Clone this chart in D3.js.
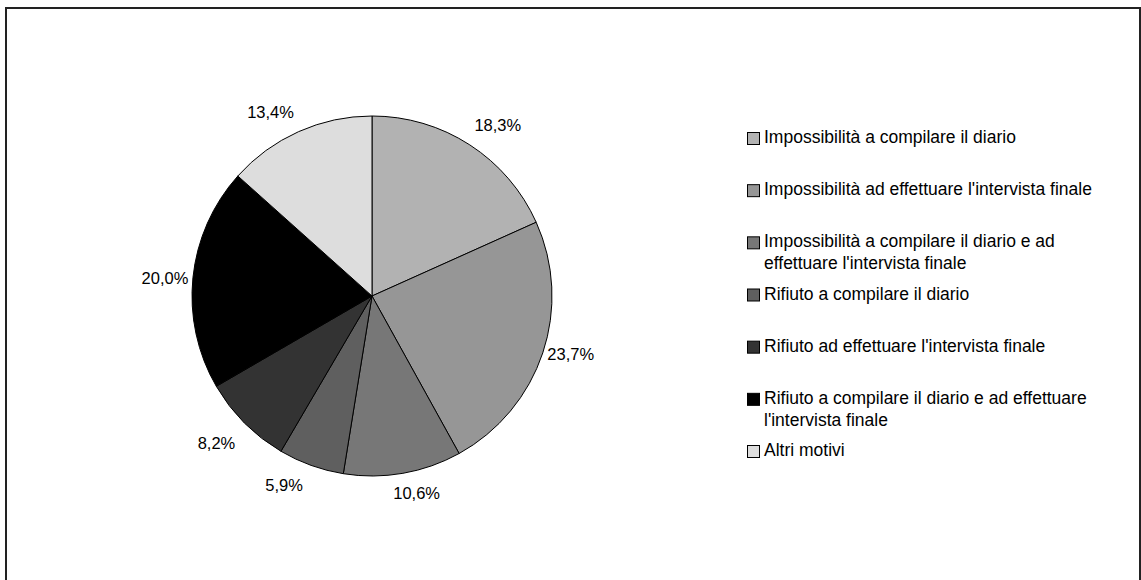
<!DOCTYPE html>
<html><head><meta charset="utf-8">
<script src="https://cdn.jsdelivr.net/npm/d3@7"></script>
<style>html,body{margin:0;padding:0;background:#fff;}svg{display:block;font-family:"Liberation Sans",Arial,sans-serif;}</style>
</head><body>
<script>
// ---- data ----
const categories = [
  "Impossibilità a compilare il diario",
  "Impossibilità ad effettuare l'intervista finale",
  "Impossibilità a compilare il diario e ad effettuare l'intervista finale",
  "Rifiuto a compilare il diario",
  "Rifiuto ad effettuare l'intervista finale",
  "Rifiuto a compilare il diario e ad effettuare l'intervista finale",
  "Altri motivi"
];
const legendLines = [
  ["Impossibilità a compilare il diario"],
  ["Impossibilità ad effettuare l'intervista finale"],
  ["Impossibilità a compilare il diario e ad", "effettuare l'intervista finale"],
  ["Rifiuto a compilare il diario"],
  ["Rifiuto ad effettuare l'intervista finale"],
  ["Rifiuto a compilare il diario e ad effettuare", "l'intervista finale"],
  ["Altri motivi"]
];
const values = [18.3, 23.7, 10.6, 5.9, 8.2, 20.0, 13.4];
const labels = ["18,3%", "23,7%", "10,6%", "5,9%", "8,2%", "20,0%", "13,4%"];
const colors = ["#b2b2b2", "#969696", "#777777", "#5f5f5f", "#333333", "#000000", "#dddddd"];

// ---- layout ----
const W = 1141, H = 580;
const cx = 372, cy = 296, R = 180;
const legendX = 747, legendTextX = 764, lineH = 22;
const legendTop = 137, legendBottom = 450;

const svg = d3.select("body").append("svg").attr("width", W).attr("height", H);
svg.append("rect").attr("width", W).attr("height", H).attr("fill", "#fff");
svg.append("rect").attr("x", 6).attr("y", 8).attr("width", 1134).attr("height", 620)
  .attr("fill", "none").attr("stroke", "#222").attr("stroke-width", 2);

const pie = d3.pie().sort(null).value(d => d)(values);
const arc = d3.arc().innerRadius(0).outerRadius(R);
const g = svg.append("g").attr("transform", `translate(${cx},${cy})`);
g.selectAll("path").data(pie).join("path")
  .attr("d", arc).attr("fill", (d, i) => colors[i])
  .attr("stroke", "#000").attr("stroke-width", 1);

// outside-end label placement: edge point plus an offset away from the pie
const clamp = v => Math.max(0, Math.min(1, v));
function labelPos(d) {
  const a = (d.startAngle + d.endAngle) / 2;
  const s = Math.sin(a), c = Math.cos(a);
  const dx = Math.sign(s) * 28 * clamp(Math.abs(s) / 0.35);
  const dy = -Math.sign(c) * 20 * clamp((Math.abs(c) - 0.3) / 0.35);
  return [R * s + dx, -R * c + dy];
}
g.selectAll("text").data(pie).join("text")
  .attr("x", d => labelPos(d)[0])
  .attr("y", d => labelPos(d)[1])
  .attr("text-anchor", "middle").attr("dominant-baseline", "central")
  .attr("font-size", 16.5).attr("fill", "#000")
  .text((d, i) => labels[i]);

const ly = d3.scalePoint().domain(categories).range([legendTop, legendBottom]);
const lg = svg.append("g");
categories.forEach((c, i) => {
  const y0 = ly(c);
  lg.append("rect").attr("x", legendX + 0.5).attr("y", y0 - 4.5).attr("width", 12).attr("height", 12)
    .attr("fill", colors[i]).attr("stroke", "#000").attr("stroke-width", 1);
  const t = lg.append("text").attr("font-size", 17.5).attr("fill", "#000");
  legendLines[i].forEach((ln, j) => {
    t.append("tspan").attr("x", legendTextX).attr("y", y0 + j * lineH)
      .attr("dominant-baseline", "central").text(ln);
  });
});
</script>
</body></html>
